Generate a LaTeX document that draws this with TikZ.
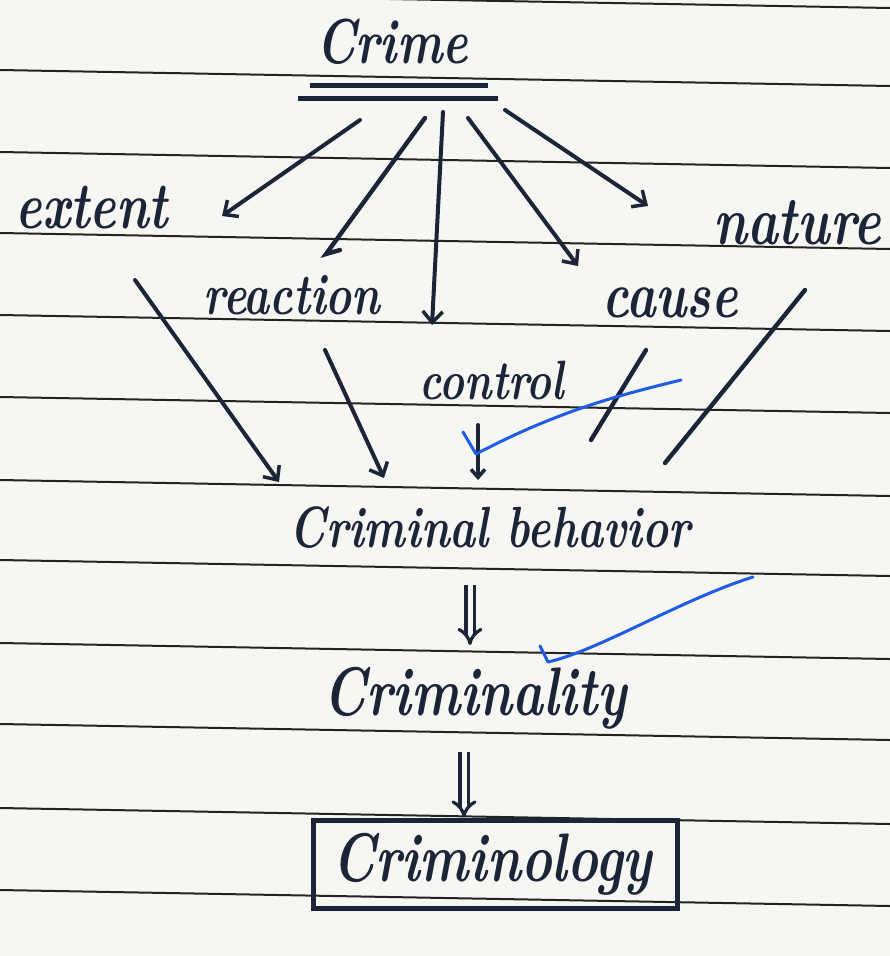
\documentclass[tikz,border=0pt]{standalone}
\usetikzlibrary{arrows.meta}
\definecolor{paper}{RGB}{246,246,243}
\definecolor{ink}{RGB}{28,36,56}
\definecolor{rulec}{RGB}{35,35,35}
\definecolor{tick}{RGB}{30,92,230}
\newcommand{\hwtxt}[1]{\scalebox{1}[1.32]{#1}}
\tikzset{
  hw/.style={text=ink, inner sep=0pt, font=\bfseries\itshape},
  ruling/.style={rulec, line width=2pt},
  arr/.style={ink, line width=4pt, line cap=round, -{Straight Barb[length=11pt,width=20pt,line width=3.5pt]}},
  plainline/.style={ink, line width=4.4pt, line cap=round},
  dbl/.style={ink, line width=3.2pt, double=paper, double distance=5pt, -{Implies}},
  checkmark/.style={tick, line width=3pt, line cap=round, line join=round},
}
\begin{document}
\begin{tikzpicture}[x=1pt,y=-1pt]
\useasboundingbox (0,0) rectangle (890,956);
\fill[paper] (0,0) rectangle (890,956);
\begin{scope}
\clip (0,0) rectangle (890,956);
\foreach \yy in {-8,70,152,233,315,397,480,560,643,724,808,890}
  \draw[ruling] (0,\yy) -- (890,{\yy+16});
\end{scope}

% texts
\node[hw, font=\fontsize{48}{48}\selectfont\bfseries\itshape] (crime) at (392,42) {\hwtxt{Crime}};
\node[hw, font=\fontsize{50}{50}\selectfont\bfseries\itshape] (extent) at (92,208) {\hwtxt{extent}};
\node[hw, font=\fontsize{44}{44}\selectfont\bfseries\itshape] (reaction) at (292,295) {\hwtxt{reaction}};
\node[hw, font=\fontsize{42}{42}\selectfont\bfseries\itshape] (control) at (492,380) {\hwtxt{control}};
\node[hw, font=\fontsize{50}{50}\selectfont\bfseries\itshape] (cause) at (670,303) {\hwtxt{cause}};
\node[hw, font=\fontsize{52}{52}\selectfont\bfseries\itshape] (nature) at (797,223) {\hwtxt{nature}};
\node[hw, font=\fontsize{44}{44}\selectfont\bfseries\itshape] (behav) at (490,528) {\hwtxt{Criminal behavior}};
\node[hw, font=\fontsize{52}{52}\selectfont\bfseries\itshape] (crimty) at (475,698) {\hwtxt{Criminality}};
\node[hw, font=\fontsize{52}{52}\selectfont\bfseries\itshape] (crimgy) at (492,864) {\hwtxt{Criminology}};
\node[draw=ink, line width=5pt, minimum width=364pt, minimum height=88pt, inner sep=0pt] (box) at (495,864) {};

% double underline of Crime
\coordinate (u1a) at (310,85); \coordinate (u1b) at (488,85);
\coordinate (u2a) at (298,98); \coordinate (u2b) at (498,98);
\draw[ink, line width=5pt] (u1a) -- (u1b);
\draw[ink, line width=5pt] (u2a) -- (u2b);

% from Crime
\coordinate (s1) at (360,120); \coordinate (e1) at (222,216);
\coordinate (s2) at (425,118); \coordinate (e2) at (326,254); \coordinate (e2h) at (340,250);
\coordinate (s3) at (443,112); \coordinate (e3) at (432,325);
\coordinate (s4) at (468,118); \coordinate (e4) at (578,266);
\coordinate (s5) at (505,110); \coordinate (e5) at (648,206);
\draw[arr] (s1) -- (e1);
\draw[plainline] (s2) -- (e2) -- (e2h);
\draw[arr] (s3) -- (e3);
\draw[arr] (s4) -- (e4);
\draw[arr] (s5) -- (e5);

% to Criminal behavior
\coordinate (t1) at (135,280); \coordinate (f1) at (279,482);
\coordinate (t2) at (325,350); \coordinate (f2) at (384,478);
\coordinate (t3) at (478,425); \coordinate (f3) at (478,480);
\coordinate (t4) at (646,350); \coordinate (f4) at (591,440);
\coordinate (t5) at (805,290); \coordinate (f5) at (665,463);
\draw[arr] (t1) -- (f1);
\draw[arr] (t2) -- (f2);
\draw[arr, -{Straight Barb[length=8pt,width=14pt,line width=3.5pt]}] (t3) -- (f3);
\draw[plainline] (t4) -- (f4);
\draw[plainline] (t5) -- (f5);

% implication arrows
\draw[dbl] (470,585) coordinate (d1s) -- (470,645) coordinate (d1e);
\draw[dbl] (464,752) coordinate (d2s) -- (box.north -| 464,0) coordinate (d2e);

% teacher's ticks
\coordinate (k1a) at (463,432); \coordinate (k1b) at (476,454); \coordinate (k1c) at (681,380);
\draw[checkmark] (k1a) -- (k1b) .. controls (560,410) and (620,395) .. (k1c);
\coordinate (k2a) at (540,646); \coordinate (k2b) at (548,662); \coordinate (k2c) at (753,577);
\draw[checkmark] (k2a) -- (k2b) .. controls (600,650) and (680,600) .. (k2c);
\end{tikzpicture}
\end{document}
